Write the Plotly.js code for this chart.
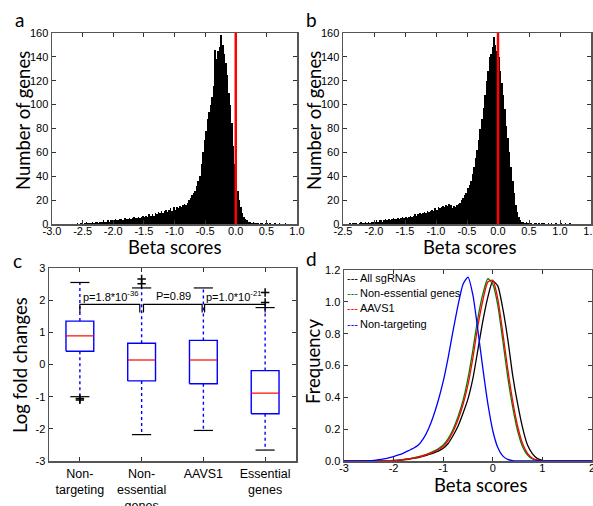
<!DOCTYPE html>
<html><head><meta charset="utf-8">
<script src="https://cdn.plot.ly/plotly-3.0.1.min.js"></script>
<style>html,body{margin:0;padding:0;background:#fff}#chart{width:593px;height:506px}</style>
</head><body><div id="chart"></div>
<script>
// ---------- Panel a: histogram of beta scores ----------
const histABinStart = -2.6;
const histABinWidth = 0.025;
const histACounts = [
  1,0,1,1,0,1,2,1,1,1,2,1,2,2,1,2,2,3,2,2,3,2,3,3,
  3,4,3,3,4,4,3,5,4,4,5,4,5,6,5,5,6,5,6,7,
  6,7,6,8,7,8,7,9,8,10,9,11,9,11,12,10,12,13,11,14,
  12,14,13,15,14,16,17,16,18,20,
  22,24,26,28,32,36,40,50,60,70,
  78,88,94,100,106,116,146,138,145,148,158,150,142,135,125,110,100,85,65,50,
  35,28,20,14,9,6,4,3,
  2,2,1,2,1,1,1,0,1,1,0,1,1,0,1,0,0,1,0,0,1,0,0,0,1,0,0,0,0,0
];
const histARefLine = 0;
const histATickVals = [-3,-2.5,-2,-1.5,-1,-0.5,0,0.5,1];
const histATickText = ["-3.0","-2.5","-2.0","-1.5","-1.0","-0.5","0.0","0.5","1.0"];

// ---------- Panel b: histogram of beta scores ----------
const histBBinStart = -2.4;
const histBBinWidth = 0.025;
const histBCounts = [
  1,0,1,1,1,0,1,2,1,1,2,1,2,1,2,2,
  2,3,2,3,3,2,3,4,3,4,3,4,5,4,4,5,4,5,6,5,
  6,5,6,7,6,7,8,7,8,9,8,9,10,9,11,10,11,12,11,13,
  12,14,13,14,15,14,16,15,17,16,
  13,15,14,16,17,18,20,22,24,26,
  30,33,36,42,48,55,62,70,80,88,
  97,108,120,128,140,142,148,157,150,145,
  140,128,118,108,96,82,72,60,48,36,
  26,16,10,6,3,2,2,1,2,1,
  1,1,0,1,1,0,1,0,1,1,0,0,1,0,1,0,0,1,0,0,1,0,0,1,0,0,1,0
];
const histBRefLine = 0;
const histBTickVals = [-2.5,-2,-1.5,-1,-0.5,0,0.5,1,1.5];
const histBTickText = ["-2.5","-2.0","-1.5","-1.0","-0.5","0.0","0.5","1.0","1.5"];
const histYTickVals = [0,20,40,60,80,100,120,140,160];

// ---------- Panel c: box plots of log fold changes ----------
const boxCategories = ["Non-<br>targeting","Non-<br>essential<br>genes","AAVS1","Essential<br>genes"];
const boxPos = [1,2,3,4];
const boxQ1 = [0.41,-0.51,-0.60,-1.53];
const boxMedian = [0.89,0.14,0.14,-0.89];
const boxQ3 = [1.35,0.66,0.75,-0.19];
const boxWhiskerLow = [-1.00,-2.18,-2.05,-2.66];
const boxWhiskerHigh = [2.55,2.38,2.38,1.77];
const outlierX = [1,1,2,2,4,4];
const outlierY = [-1.06,-1.10,2.51,2.66,1.93,2.24];
const bracketStart = [1.00,2.03,3.02];
const bracketEnd = [1.97,2.98,4.00];
const bracketTop = 1.87;
const bracketFoot = 1.62;
const pLabels = ["p=1.8*10<sup>-36</sup>","P=0.89","p=1.0*10<sup>-21</sup>"];
const pLabelX = [1.5,2.52,3.48];
const pLabelY = 2.12;
const boxYTickVals = [-3,-2,-1,0,1,2,3];
const boxYTickText = ["-3","-2","-1","0","1","2","3"];

// ---------- Panel d: density of beta scores ----------
const densX = [-3.0,-2.9,-2.8,-2.7,-2.6,-2.5,-2.4,-2.3,-2.2,-2.1,-2.0,-1.9,-1.8,-1.7,-1.6,-1.5,-1.4,-1.3,-1.2,-1.1,
  -1.0,-0.9,-0.8,-0.7,-0.6,-0.5,-0.4,-0.3,-0.2,-0.1,0.0,0.1,0.2,0.3,0.4,0.5,0.6,0.7,0.8,0.9,
  1.0,1.1,1.2,1.3,1.4,1.5,1.6,1.7,1.8,1.9,2.0];
const densAll = [0,0,0,0,0,0,0,0,0,0,
  0.002,0.004,0.007,0.011,0.016,0.022,0.03,0.04,0.05,0.062,
  0.08,0.11,0.16,0.22,0.30,0.39,0.52,0.70,0.88,1.03,
  1.13,1.10,0.96,0.77,0.54,0.36,0.21,0.10,0.045,0.015,0.004,
  0,0,0,0,0,0,0,0,0,0];
const densNonEss = [0,0,0,0,0,0,0,0,
  0.001,0.002,0.004,0.006,0.01,0.014,0.02,0.027,0.036,0.047,0.06,0.077,
  0.10,0.14,0.20,0.28,0.38,0.52,0.70,0.90,1.05,1.145,
  1.11,0.98,0.76,0.53,0.34,0.19,0.09,0.038,0.013,0.004,0.001,
  0,0,0,0,0,0,0,0,0,0];
const densAAVS1 = [0,0,0,0,0,0,0,0,
  0.001,0.002,0.003,0.005,0.009,0.013,0.018,0.025,0.033,0.043,0.055,0.071,
  0.092,0.13,0.185,0.26,0.355,0.48,0.65,0.85,1.01,1.125,
  1.135,1.02,0.81,0.58,0.38,0.22,0.11,0.048,0.017,0.005,0.001,
  0,0,0,0,0,0,0,0,0,0];
const densNonTarg = [0,0,0,0,0.001,0.002,0.004,0.008,0.013,0.02,
  0.028,0.038,0.05,0.065,0.08,0.10,0.14,0.20,0.28,0.38,
  0.50,0.65,0.82,0.98,1.11,1.155,1.04,0.82,0.58,0.36,
  0.19,0.085,0.032,0.01,0.003,0.001,
  0,0,0,0,0,0,0,0,0,0,0,0,0,0,0];
const densSeriesNames = ["All sgRNAs","Non-essential genes","AAVS1","Non-targeting"];
const densSeriesColors = ["#000000","#008000","#ff0000","#0000ff"];
const densXTickVals = [-3,-2,-1,0,1,2];
const densXTickText = ["-3","-2","-1","0","1","2"];
const densYTickVals = [0,0.2,0.4,0.6,0.8,1.0,1.2];
const densYTickText = ["0.0","0.2","0.4","0.6","0.8","1.0","1.2"];

// ---------- build ----------
function centers(start, w, n){ const c=[]; for(let i=0;i<n;i++) c.push(start+(i+0.5)*w); return c; }

const SANS = "Liberation Sans, Arial, sans-serif";
const TICKFONT = {family:SANS, size:11, color:"#000"};
const TITLEFONT = {family:"Lato, Liberation Sans, sans-serif", size:18.5, color:"#000"};
const ax = (o) => Object.assign({showline:true, linecolor:"#555", linewidth:1.5, mirror:"allticks",
  ticks:"inside", ticklen:4, tickwidth:1, tickcolor:"#333", showgrid:false, zeroline:false,
  tickfont:TICKFONT, tickmode:"array", fixedrange:true, ticklabeloverflow:"allow"}, o);

const traces = [];
traces.push({type:"bar", x:centers(histABinStart,histABinWidth,histACounts.length), y:histACounts,
  width:histABinWidth, marker:{color:"#000", line:{width:0}}, xaxis:"x", yaxis:"y", showlegend:false, hoverinfo:"skip"});
traces.push({type:"bar", x:centers(histBBinStart,histBBinWidth,histBCounts.length), y:histBCounts,
  width:histBBinWidth, marker:{color:"#000", line:{width:0}}, xaxis:"x2", yaxis:"y2", showlegend:false, hoverinfo:"skip"});

// box plots (drawn from the quartile arrays)
const HALF_BOX = 0.225, HALF_CAP = 0.155;
const rx=[], ry=[], wx=[], wy=[], cx=[], cy=[], mx=[], my=[];
boxPos.forEach((p,i)=>{
  rx.push(p-HALF_BOX,p+HALF_BOX,p+HALF_BOX,p-HALF_BOX,p-HALF_BOX,null);
  ry.push(boxQ1[i],boxQ1[i],boxQ3[i],boxQ3[i],boxQ1[i],null);
  wx.push(p,p,null,p,p,null); wy.push(boxQ3[i],boxWhiskerHigh[i],null,boxQ1[i],boxWhiskerLow[i],null);
  cx.push(p-HALF_CAP,p+HALF_CAP,null,p-HALF_CAP,p+HALF_CAP,null); cy.push(boxWhiskerHigh[i],boxWhiskerHigh[i],null,boxWhiskerLow[i],boxWhiskerLow[i],null);
  mx.push(p-HALF_BOX,p+HALF_BOX,null); my.push(boxMedian[i],boxMedian[i],null);
});
traces.push({type:"scatter", mode:"lines", x:wx, y:wy, line:{color:"#0000ff", width:1.4, dash:"3px,3px"}, xaxis:"x3", yaxis:"y3", showlegend:false, hoverinfo:"skip"});
traces.push({type:"scatter", mode:"lines", x:rx, y:ry, line:{color:"#0000ff", width:1.4}, xaxis:"x3", yaxis:"y3", showlegend:false, hoverinfo:"skip"});
traces.push({type:"scatter", mode:"lines", x:cx, y:cy, line:{color:"#000", width:1.2}, xaxis:"x3", yaxis:"y3", showlegend:false, hoverinfo:"skip"});
traces.push({type:"scatter", mode:"lines", x:mx, y:my, line:{color:"#ff0000", width:1.2}, xaxis:"x3", yaxis:"y3", showlegend:false, hoverinfo:"skip"});
traces.push({type:"scatter", mode:"markers", x:outlierX, y:outlierY, marker:{symbol:"cross-thin", size:6, line:{color:"#000", width:1.5}}, xaxis:"x3", yaxis:"y3", showlegend:false, hoverinfo:"skip"});
const bx=[], by=[];
bracketStart.forEach((s,i)=>{ bx.push(s,s,bracketEnd[i],bracketEnd[i],null); by.push(bracketFoot,bracketTop,bracketTop,bracketFoot,null); });
traces.push({type:"scatter", mode:"lines", x:bx, y:by, line:{color:"#000", width:1.2}, xaxis:"x3", yaxis:"y3", showlegend:false, hoverinfo:"skip"});

// density curves
[densAll,densNonEss,densAAVS1,densNonTarg].forEach((ys,i)=>{
  traces.push({type:"scatter", mode:"lines", x:densX, y:ys, name:densSeriesNames[i],
    line:{color:densSeriesColors[i], width:1.3, shape:"spline", smoothing:0.6}, xaxis:"x4", yaxis:"y4", showlegend:false, hoverinfo:"skip"});
});

const annotations = [];
const letters = [["a",19,20],["b",311,19],["c",17,260],["d",311,258]];
letters.forEach(l=>annotations.push({text:l[0], xref:"paper", yref:"paper", x:l[1]/593, y:1-l[2]/506,
  xanchor:"center", yanchor:"middle", showarrow:false, font:{family:"Lato, Liberation Sans, sans-serif", size:19, color:"#000"}}));
// axis titles
const yTitles = [["Number of genes",23,121],["Number of genes",314,121],["Log fold changes",20,365],["Frequency",313,362]];
yTitles.forEach(t=>annotations.push({text:t[0], xref:"paper", yref:"paper", x:t[1]/593, y:1-t[2]/506, textangle:-90,
  xanchor:"center", yanchor:"middle", showarrow:false, font:TITLEFONT}));
const xTitles = [["Beta scores",174,247],["Beta scores",469,247],["Beta scores",480,485]];
xTitles.forEach(t=>annotations.push({text:t[0], xref:"paper", yref:"paper", x:t[1]/593, y:1-t[2]/506,
  xanchor:"center", yanchor:"middle", showarrow:false, font:TITLEFONT}));
pLabels.forEach((t,i)=>annotations.push({text:t, xref:"x3", yref:"y3", x:pLabelX[i], y:pLabelY, showarrow:false,
  xanchor:"center", yanchor:"middle", font:{family:SANS, size:11, color:"#000"}}));
// legend of panel d
const legY = [1.15,1.055,0.96,0.86];
densSeriesNames.forEach((n,i)=>{
  annotations.push({text:"---", xref:"x4", yref:"y4", x:-3, y:legY[i], xanchor:"left", yanchor:"middle", xshift:1,
    showarrow:false, font:{family:SANS, size:11, color:densSeriesColors[i]}});
  annotations.push({text:n, xref:"x4", yref:"y4", x:-3, y:legY[i], xanchor:"left", yanchor:"middle", xshift:14,
    showarrow:false, font:{family:SANS, size:11, color:"#000"}});
});

const layout = {
  width:593, height:506, margin:{l:0,r:0,t:0,b:0}, paper_bgcolor:"#fff", plot_bgcolor:"#fff",
  bargap:0, showlegend:false,
  xaxis: ax({domain:[52/593,297/593], range:[-3,1], tickvals:histATickVals, ticktext:histATickText, anchor:"y", ticklabelstandoff:-4}),
  yaxis: ax({domain:[282/506,473/506], range:[0,160], tickvals:histYTickVals, anchor:"x"}),
  xaxis2: ax({domain:[343/593,591/593], range:[-2.5,1.5], tickvals:histBTickVals, ticktext:histBTickText, anchor:"y2", ticklabelstandoff:-4}),
  yaxis2: ax({domain:[282/506,473/506], range:[0,160], tickvals:histYTickVals, anchor:"x2"}),
  xaxis3: ax({domain:[49/593,296/593], range:[0.5,4.5], tickvals:boxPos, ticktext:boxCategories, anchor:"y3",
    tickfont:{family:SANS, size:12.5, color:"#000"}}),
  yaxis3: ax({domain:[45/506,238/506], range:[-3,3], tickvals:boxYTickVals, ticktext:boxYTickText, anchor:"x3"}),
  xaxis4: ax({domain:[344/593,592/593], range:[-3,2], tickvals:densXTickVals, ticktext:densXTickText, anchor:"y4", ticklabelstandoff:-4}),
  yaxis4: ax({domain:[45/506,236/506], range:[0,1.2], tickvals:densYTickVals, ticktext:densYTickText, anchor:"x4"}),
  shapes:[
    {type:"line", xref:"x", yref:"y", x0:histARefLine, x1:histARefLine, y0:0, y1:160, line:{color:"#ff0000", width:2.5}},
    {type:"line", xref:"x2", yref:"y2", x0:histBRefLine, x1:histBRefLine, y0:0, y1:160, line:{color:"#ff0000", width:2.5}}
  ],
  annotations:annotations
};
Plotly.newPlot("chart", traces, layout, {staticPlot:true, displayModeBar:false});
</script>
</body></html>
